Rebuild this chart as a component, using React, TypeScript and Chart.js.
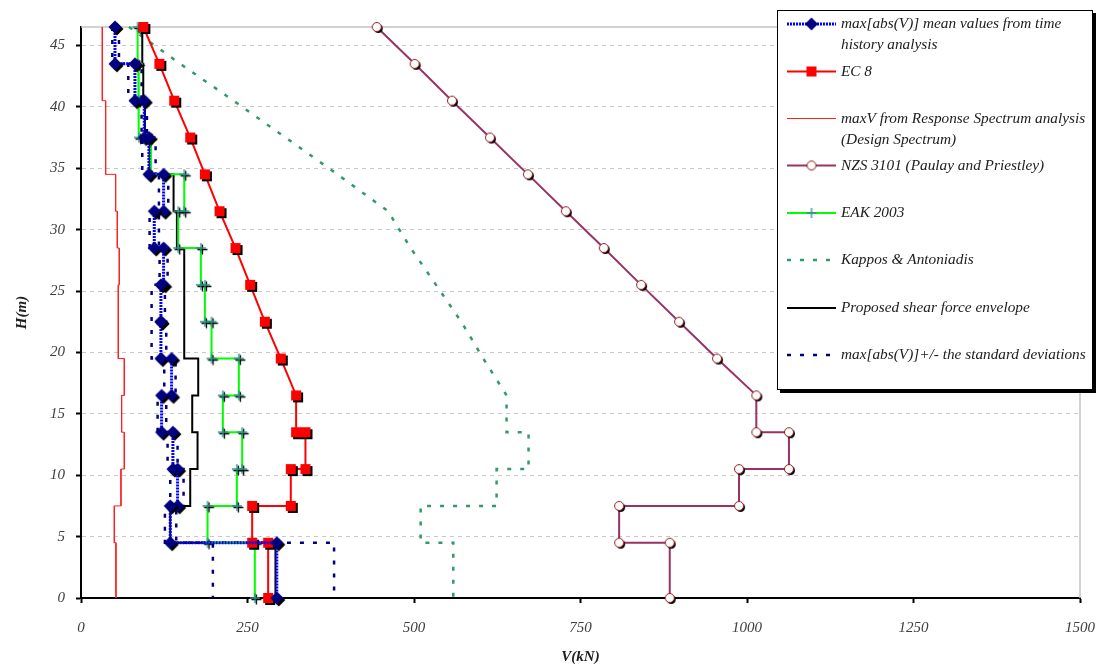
import React, { useEffect, useRef } from "react";
import { Chart, registerables } from "chart.js";

Chart.register(...registerables);

// ---- data ----
// storeys (bottom and top heights, m)
const storyBottom = [0, 4.5, 7.5, 10.5, 13.5, 16.5, 19.5, 22.5, 25.5, 28.5, 31.5, 34.5, 37.5, 40.5, 43.5];
const storyTop = [4.5, 7.5, 10.5, 13.5, 16.5, 19.5, 22.5, 25.5, 28.5, 31.5, 34.5, 37.5, 40.5, 43.5, 46.5];

// step series: one value per storey (bottom -> top), kN
const meanV = [294, 134, 145, 138, 121, 136, 120, 120, 124, 110, 124, 102, 95, 81, 51];
const stdMinusV = [198, 126, 134, 130, 115, 125, 106, 106, 118, 103, 117, 92, 91, 71, 47];
const stdPlusV = [380, 143, 154, 145, 128, 142, 128, 126, 130, 117, 131, 112, 99, 91, 57];
const rsV = [52.5, 50, 60, 65, 61, 65, 56, 56, 57.5, 54.5, 52, 37, 37, 32, 32];
const eakV = [261, 190, 234, 242, 213, 237, 196, 186, 180, 146, 155, 105, 87, 86, 85];
const proposedV = [292, 134, 164, 175, 167, 176, 155, 155, 155, 144, 139, 103, 96, 93.5, 92];

// profile series: heights shared by EC 8, NZS 3101 and Kappos & Antoniadis
const profileH = [46.5, 43.5, 40.5, 37.5, 34.5, 31.5, 28.5, 25.5, 22.5, 19.5, 16.5, 13.5, 13.5, 10.5, 10.5, 7.5, 7.5, 4.5, 4.5, 0];
const ec8V = [93.6, 117.6, 140, 164, 186, 208, 232, 254, 276, 300, 323, 323, 337, 337, 315, 315, 257, 257, 281, 281];
const nzsV = [444, 501, 557, 614, 671, 728, 785, 841, 898, 955, 1014, 1014, 1063, 1063, 988, 988, 808, 808, 884, 884];
const kapposV = [72, 149, 229, 307, 385, 461, 495, 533, 571, 604, 639, 639, 672, 672, 624, 624, 510, 510, 559, 559];

const xTicks = { min: 0, max: 1500, step: 250 };
const yTicks = { min: 0, max: 46.5, step: 5 };

const legendLabels = [
  ["max[abs(V)] mean values from time", "history analysis"],
  ["EC 8"],
  ["maxV from Response Spectrum analysis", "(Design Spectrum)"],
  ["NZS 3101 (Paulay and Priestley)"],
  ["EAK 2003"],
  ["Kappos & Antoniadis"],
  ["Proposed shear force envelope"],
  ["max[abs(V)]+/- the standard deviations"],
];

// ---- helpers ----
function stepPoints(values: number[]) {
  const pts: { x: number; y: number }[] = [];
  for (let i = values.length - 1; i >= 0; i--) {
    pts.push({ x: values[i], y: storyTop[i] });
    pts.push({ x: values[i], y: storyBottom[i] });
  }
  return pts;
}
function profilePoints(values: number[]) {
  return values.map((v, i) => ({ x: v, y: profileH[i] }));
}

type Kind = "diamond" | "square" | "circle" | "plus";

function drawShape(g: CanvasRenderingContext2D, kind: Kind, cx: number, cy: number, isShadow: boolean) {
  g.beginPath();
  if (kind === "diamond") {
    g.moveTo(cx, cy - 6.5);
    g.lineTo(cx + 6.5, cy);
    g.lineTo(cx, cy + 6.5);
    g.lineTo(cx - 6.5, cy);
    g.closePath();
    g.fillStyle = isShadow ? "#000" : "#000080";
    g.fill();
  } else if (kind === "square") {
    g.rect(cx - 5, cy - 5, 10, 10);
    g.fillStyle = isShadow ? "#000" : "#ff0000";
    g.fill();
  } else if (kind === "circle") {
    g.arc(cx, cy, 4.5, 0, Math.PI * 2);
    g.fillStyle = isShadow ? "#000" : "#ffffff";
    g.fill();
    if (!isShadow) {
      g.lineWidth = 1;
      g.strokeStyle = "#8b1a1a";
      g.stroke();
    }
  } else {
    g.moveTo(cx - 5, cy);
    g.lineTo(cx + 5, cy);
    g.moveTo(cx, cy - 5);
    g.lineTo(cx, cy + 5);
    g.lineWidth = 1.3;
    g.strokeStyle = isShadow ? "#000" : "#2f8f8f";
    g.stroke();
  }
}

function makeMarker(kind: Kind, shadow: boolean) {
  const c = document.createElement("canvas");
  c.width = 22;
  c.height = 22;
  const g = c.getContext("2d")!;
  const off = kind === "diamond" || kind === "square" ? 2 : 1.5;
  if (shadow) drawShape(g, kind, 11 + off, 11 + off, true);
  drawShape(g, kind, 11, 11, false);
  return c;
}

const FONT = "'Liberation Serif', 'Times New Roman', serif";

export default function App() {
  const ref = useRef<HTMLCanvasElement | null>(null);

  useEffect(() => {
    if (!ref.current) return;
    const mDiamond = makeMarker("diamond", true);
    const mSquare = makeMarker("square", true);
    const mCircle = makeMarker("circle", true);
    const mPlus = makeMarker("plus", true);
    const lDiamond = makeMarker("diamond", false);
    const lSquare = makeMarker("square", false);
    const lCircle = makeMarker("circle", false);
    const lPlus = makeMarker("plus", false);

    const frame = {
      id: "frame",
      beforeDatasetsDraw(chart: any) {
        const { ctx, chartArea: a } = chart;
        ctx.save();
        ctx.strokeStyle = "#c4c4c4";
        ctx.lineWidth = 1.5;
        ctx.beginPath();
        ctx.moveTo(a.left, a.top);
        ctx.lineTo(a.right, a.top);
        ctx.lineTo(a.right, a.bottom);
        ctx.stroke();
        ctx.restore();
      },
    };

    const legend = {
      id: "boxLegend",
      afterDraw(chart: any) {
        const ctx: CanvasRenderingContext2D = chart.ctx;
        const bx = 777, by = 10, bw = 316, bh = 380;
        ctx.save();
        ctx.fillStyle = "#000";
        ctx.fillRect(bx + 3, by + 3, bw, bh);
        ctx.fillStyle = "#fff";
        ctx.fillRect(bx, by, bw, bh);
        ctx.strokeStyle = "#000";
        ctx.lineWidth = 1;
        ctx.strokeRect(bx + 0.5, by + 0.5, bw - 1, bh - 1);

        const x1 = 787, x2 = 836, xm = 811.5;
        const line = (y: number, color: string, width: number, dash: number[]) => {
          ctx.save();
          ctx.strokeStyle = color;
          ctx.lineWidth = width;
          ctx.setLineDash(dash);
          ctx.beginPath();
          ctx.moveTo(x1, y);
          ctx.lineTo(x2, y);
          ctx.stroke();
          ctx.restore();
        };
        const mark = (img: HTMLCanvasElement, y: number) => {
          ctx.drawImage(img, xm - 11, y - 11);
        };
        const ys = [24, 71.5, 118.5, 165.5, 213, 260, 308, 355];
        line(ys[0], "#0000ff", 3, [2, 1]);
        mark(lDiamond, ys[0]);
        line(ys[1], "#ff0000", 2, []);
        mark(lSquare, ys[1]);
        line(ys[2], "#ff2020", 1, []);
        line(ys[3], "#993366", 2, []);
        mark(lCircle, ys[3]);
        line(ys[4], "#00ff00", 2, []);
        mark(lPlus, ys[4]);
        line(ys[5], "#339966", 2.5, [4, 9]);
        line(ys[6], "#000000", 2, []);
        line(ys[7], "#000080", 2.5, [4, 9]);

        ctx.fillStyle = "#202020";
        ctx.font = `italic 15.3px ${FONT}`;
        ctx.textBaseline = "middle";
        ctx.textAlign = "left";
        legendLabels.forEach((lines, i) => {
          lines.forEach((t, j) => ctx.fillText(t, 841, ys[i] + j * 21));
        });
        ctx.restore();
      },
    };

    const base = { showLine: true, clip: false as any, pointHoverRadius: 0 };

    const chart = new Chart(ref.current, {
      type: "scatter",
      data: {
        datasets: [
          { ...base, label: "mean", data: stepPoints(meanV), borderColor: "#0000ff", borderWidth: 3, borderDash: [2, 1], pointStyle: mDiamond as any, pointRadius: 6 },
          { ...base, label: "EC 8", data: profilePoints(ec8V), borderColor: "#ff0000", borderWidth: 2, pointStyle: mSquare as any, pointRadius: 6 },
          { ...base, label: "EAK 2003", data: stepPoints(eakV), borderColor: "#00ff00", borderWidth: 2, pointStyle: mPlus as any, pointRadius: 6 },
          { ...base, label: "NZS 3101", data: profilePoints(nzsV), borderColor: "#993366", borderWidth: 2, pointStyle: mCircle as any, pointRadius: 6 },
          { ...base, label: "Proposed", data: stepPoints(proposedV), borderColor: "#000000", borderWidth: 2, pointRadius: 0 },
          { ...base, label: "std+", data: stepPoints(stdPlusV), borderColor: "#000080", borderWidth: 2.5, borderDash: [4, 9], pointRadius: 0 },
          { ...base, label: "std-", data: stepPoints(stdMinusV), borderColor: "#000080", borderWidth: 2.5, borderDash: [4, 9], pointRadius: 0 },
          { ...base, label: "RS", data: stepPoints(rsV), borderColor: "#ff2020", borderWidth: 1, pointRadius: 0 },
          { ...base, label: "Kappos", data: profilePoints(kapposV), borderColor: "#339966", borderWidth: 2.5, borderDash: [4, 9], pointRadius: 0 },
        ],
      },
      options: {
        animation: false,
        responsive: true,
        maintainAspectRatio: false,
        layout: { padding: { left: 0, right: 19, top: 27, bottom: 0 } },
        plugins: { legend: { display: false }, tooltip: { enabled: false } },
        events: [],
        scales: {
          x: {
            type: "linear",
            min: xTicks.min,
            max: xTicks.max,
            ticks: {
              stepSize: xTicks.step,
              includeBounds: false,
              maxRotation: 0,
              padding: 16,
              color: "#404040",
              font: { family: FONT, style: "italic", size: 15 },
              callback: (v: any) => String(v),
            },
            grid: { drawOnChartArea: false, tickColor: "#000", tickLength: 5, tickWidth: 2 },
            border: { color: "#000", width: 2 },
            title: {
              display: true,
              text: "V(kN)",
              color: "#202020",
              font: { family: FONT, style: "italic", weight: "bold", size: 15 },
              padding: { top: 0, bottom: 0 },
            },
            afterFit: (s: any) => {
              s.height = 68;
              s.paddingLeft = 0;
              s.paddingRight = 0;
            },
          },
          y: {
            type: "linear",
            min: yTicks.min,
            max: yTicks.max,
            ticks: {
              stepSize: yTicks.step,
              includeBounds: false,
              padding: 11,
              color: "#404040",
              font: { family: FONT, style: "italic", size: 15 },
            },
            grid: { color: "#c8c8c8", lineWidth: 1, tickColor: "#000", tickLength: 5, tickWidth: 2 },
            border: { color: "#000", width: 2, dash: [4, 4] },
            title: {
              display: true,
              text: "H(m)",
              color: "#202020",
              font: { family: FONT, style: "italic", weight: "bold", size: 15 },
              padding: { top: 13, bottom: 0 },
            },
            afterFit: (s: any) => {
              s.width = 81;
            },
          },
        },
      } as any,
      plugins: [frame, legend],
    });
    return () => chart.destroy();
  }, []);

  return (
    <div style={{ position: "fixed", left: 0, top: 0, width: 1099, height: 666, background: "#fff" }}>
      <canvas ref={ref} />
    </div>
  );
}
